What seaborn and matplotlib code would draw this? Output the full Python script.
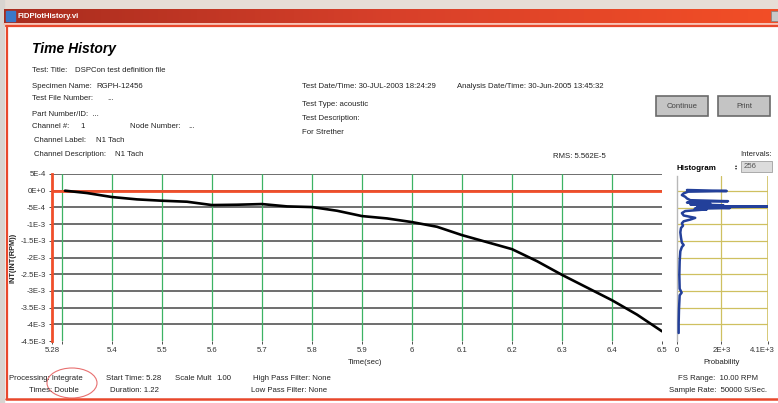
import numpy as np
import pandas as pd
import matplotlib.pyplot as plt
import matplotlib.transforms as mtransforms
import seaborn as sns
from matplotlib.patches import Rectangle, Ellipse
from matplotlib.colors import LinearSegmentedColormap

# time history curve
time_sec = [5.306, 5.35, 5.40, 5.45, 5.50, 5.55, 5.60, 5.65, 5.70, 5.75, 5.80, 5.85,
            5.90, 5.95, 6.00, 6.05, 6.10, 6.15, 6.20, 6.25, 6.30, 6.35, 6.40, 6.45, 6.50]
int_rpm = [0.0, -0.7e-4, -1.9e-4, -2.6e-4, -3.0e-4, -3.3e-4, -4.3e-4, -4.2e-4, -4.0e-4,
           -4.7e-4, -4.9e-4, -6.0e-4, -7.6e-4, -8.3e-4, -9.4e-4, -1.08e-3, -1.33e-3,
           -1.54e-3, -1.75e-3, -2.11e-3, -2.52e-3, -2.90e-3, -3.28e-3, -3.71e-3, -4.21e-3]

# histogram profile (value level, count)
hist_level = [0.3e-4, 0.0, -0.2e-4, -0.71e-4, -1.22e-4, -1.73e-4, -2.24e-4, -2.76e-4,
              -3.06e-4, -3.2e-4, -3.47e-4, -3.78e-4, -4.0e-4, -4.29e-4, -4.5e-4, -4.69e-4,
              -4.85e-4, -5.10e-4, -5.3e-4, -5.51e-4, -6.02e-4, -6.63e-4, -7.35e-4, -8.06e-4,
              -8.57e-4, -9.08e-4, -9.69e-4, -1.04e-3, -1.11e-3, -1.24e-3, -1.40e-3, -1.55e-3,
              -1.62e-3, -1.68e-3, -1.81e-3, -2.11e-3, -2.52e-3, -2.93e-3, -3.05e-3, -3.13e-3,
              -3.54e-3, -3.95e-3, -4.26e-3]
hist_count = [450, 2240, 500, 300, 220, 370, 450, 600,
              2300, 700, 450, 1500, 600, 2090, 900, 4100,
              1200, 2380, 800, 1340, 370, 220, 300, 820,
              600, 300, 220, 270, 180, 150, 180, 220,
              300, 220, 150, 120, 105, 120, 210, 120,
              90, 75, 75]

x_ticks = [5.28, 5.3, 5.4, 5.5, 5.6, 5.7, 5.8, 5.9, 6.0, 6.1, 6.2, 6.3, 6.4, 6.5]
x_labels = ['5.28', '', '5.4', '5.5', '5.6', '5.7', '5.8', '5.9', '6', '6.1', '6.2', '6.3', '6.4', '6.5']
x_grid = [5.3, 5.4, 5.5, 5.6, 5.7, 5.8, 5.9, 6.0, 6.1, 6.2, 6.3, 6.4]
y_ticks = [5e-4, 0, -5e-4, -1e-3, -1.5e-3, -2e-3, -2.5e-3, -3e-3, -3.5e-3, -4e-3, -4.5e-3]
y_labels = ['5E-4', '0E+0', '-5E-4', '-1E-3', '-1.5E-3', '-2E-3', '-2.5E-3', '-3E-3',
            '-3.5E-3', '-4E-3', '-4.5E-3']
hist_ticks = [0, 2000, 4100]
hist_labels = ['0', '2E+3', '4.1E+3']

sns.set_theme(style='white')
plt.rcParams['font.family'] = ['Liberation Sans', 'DejaVu Sans']

W, H = 778, 403
fig = plt.figure(figsize=(W / 100, H / 100), dpi=100)
fig.patch.set_facecolor('white')

# background / window chrome, pixel coordinates
bg = fig.add_axes([0, 0, 1, 1], zorder=0)
bg.axis('off')
bg.add_patch(Rectangle((0, 0), W, 9, color='#e6ddd6'))
bg.add_patch(Rectangle((0, 0), 4, H, color='#d8d4d0'))
cmap = LinearSegmentedColormap.from_list('bar', ['#a82c1e', '#d8402a', '#f24e26'])
bg.imshow(np.linspace(0, 1, 256)[None, :], cmap=cmap, aspect='auto',
          extent=(4, W, 23, 9), zorder=1)
bg.add_patch(Rectangle((6, 11), 9, 10, color='#3a78c8', zorder=2))
bg.text(18, 16, 'FIDPlotHistory.vi', color='white', fontsize=5.6, fontweight='bold',
        va='center', zorder=3)
bg.add_patch(Rectangle((771, 11), 7, 10, fc='#c8c8c8', ec='#808080', lw=0.5, zorder=2))
bg.plot([4, W], [24, 24], color='#f6b8a8', lw=1.2)
bg.plot([6, W], [26, 26], color='#e8482c', lw=1.6)
bg.plot([7, 7], [26, 399], color='#e8482c', lw=1.6)
bg.plot([6, W], [399, 399], color='#e8482c', lw=1.8)
bg.set_xlim(0, W)
bg.set_ylim(H, 0)

fs = 5.6
def txt(x, y, s, **kw):
    kw.setdefault('fontsize', fs)
    kw.setdefault('color', '#222222')
    bg.text(x, y, s, va='center', **kw)

txt(32, 49, 'Time History', fontsize=10, fontweight='bold', fontstyle='italic', color='black')
txt(32, 71, 'Test: Title:')
txt(75, 71, 'DSPCon test definition file')
txt(32, 86, 'Specimen Name:')
txt(96, 86, 'RGPH-12456')
txt(32, 99, 'Test File Number:')
txt(107, 99, '...')
txt(32, 114, 'Part Number/ID:  ...')
txt(32, 127, 'Channel #:')
txt(80, 127, '1')
txt(130, 127, 'Node Number:')
txt(188, 127, '...')
txt(34, 141, 'Channel Label:')
txt(96, 141, 'N1 Tach')
txt(34, 155, 'Channel Description:')
txt(115, 155, 'N1 Tach')

txt(302, 86, 'Test Date/Time: 30-JUL-2003 18:24:29')
txt(457, 86, 'Analysis Date/Time: 30-Jun-2005 13:45:32')
txt(302, 104, 'Test Type: acoustic')
txt(302, 119, 'Test Description:')
txt(302, 132, 'For Strether')
txt(553, 157, 'RMS: 5.562E-5')

# buttons
for bx, label in [(656, 'Continue'), (718, 'Print')]:
    bg.add_patch(Rectangle((bx, 96), 52, 20, fc='#c4c4c4', ec='#6a6a6a', lw=1.2))
    bg.text(bx + 26, 106, label, ha='center', va='center', fontsize=fs, color='#444444')

txt(740, 154, 'Intervals:')
bg.add_patch(Rectangle((741, 161), 31, 11, fc='#dcdcdc', ec='#a0a0a0', lw=0.6))
txt(735, 166.5, '\u25b4\n\u25be', fontsize=3, linespacing=0.8)
txt(744, 166.5, '256', color='#555555')
txt(677, 169, 'Histogram', fontweight='bold', fontsize=5.8, color='black')

# bottom info
txt(9, 378, 'Processing: Integrate')
txt(29, 390, 'Times: Double')
txt(106, 378, 'Start Time: 5.28')
txt(110, 390, 'Duration: 1.22')
txt(175, 378, 'Scale Mult')
txt(216, 378, '1.00')
txt(253, 378, 'High Pass Filter: None')
txt(251, 391, 'Low Pass Filter: None')
txt(678, 378, 'FS Range:  10.00 RPM')
txt(669, 390, 'Sample Rate:  50000 S/Sec.')
bg.add_patch(Ellipse((72, 383), 50, 30, fill=False, ec='#e87070', lw=0.8))

txt(365, 362, 'Time(sec)', ha='center')
txt(722, 362, 'Probability', ha='center')
bg.text(13, 258, 'INT(INT(RPM))', rotation=90, ha='center', va='center',
        fontsize=5.3, fontweight='bold', color='#222222')

# main time history plot
top, bot = 174, 341
ax = fig.add_axes([52 / W, 1 - bot / H, 610 / W, (bot - top) / H], zorder=2)
ax.set_facecolor('none')
for y in y_ticks[:-1]:
    ax.axhline(y, color='#555555', lw=1.2, zorder=1)
for x in x_grid:
    ax.axvline(x, color='#3cb363', lw=0.9, zorder=1)
ax.axhline(0, color='#f04e2a', lw=2, zorder=2)
df = pd.DataFrame({'t': time_sec, 'v': int_rpm})
sns.lineplot(data=df, x='t', y='v', color='black', lw=1.9, ax=ax, zorder=3)
ax.set_xlim(5.28, 6.5)
ax.set_ylim(-4.5e-3, 5e-4)
ax.set_xticks(x_ticks)
ax.set_xticklabels(x_labels)
ax.set_yticks(y_ticks)
ax.set_yticklabels(y_labels)
ax.set_xlabel('')
ax.set_ylabel('')
ax.tick_params(axis='both', labelsize=fs, colors='#333333', length=2.5, width=0.6,
               direction='out', pad=2, bottom=True, left=True)
for s in ['top', 'right', 'bottom']:
    ax.spines[s].set_visible(False)
ax.spines['left'].set_color('#f04e2a')
ax.spines['left'].set_linewidth(2)

# histogram panel
hx = fig.add_axes([677 / W, 1 - bot / H, 91 / W, (bot - 176) / H], zorder=2)
hx.set_facecolor('none')
for y in y_ticks[1:-1]:
    hx.axhline(y, color='#cfc060', lw=0.9, zorder=1)
hx.axvline(2000, color='#cfc060', lw=0.9, zorder=1)
hx.axvline(4100, color='#cfc060', lw=1.2, zorder=1)
hdf = pd.DataFrame({'count': hist_count, 'level': hist_level})
sns.lineplot(data=hdf, x='count', y='level', sort=False, estimator=None,
             color='#23409a', lw=1.8, ax=hx, zorder=3)
hx.set_xlim(0, 4100)
hx.set_ylim(-4.5e-3, 4.5e-4)
hx.set_xticks(hist_ticks)
hx.set_xticklabels(hist_labels)
hx.set_yticks([])
hx.set_xlabel('')
hx.set_ylabel('')
hx.tick_params(axis='x', labelsize=fs, colors='#333333', length=2.5, width=0.6,
               direction='out', pad=2, bottom=True)
# keep the last label inside the window
last = hx.get_xticklabels()[-1]
last.set_transform(last.get_transform() + mtransforms.ScaledTranslation(-6 / 100, 0, fig.dpi_scale_trans))
for s in ['top', 'right', 'bottom']:
    hx.spines[s].set_visible(False)
hx.spines['left'].set_color('#b8b8b8')
hx.spines['left'].set_linewidth(1)

plt.savefig('out.png', dpi=100)
